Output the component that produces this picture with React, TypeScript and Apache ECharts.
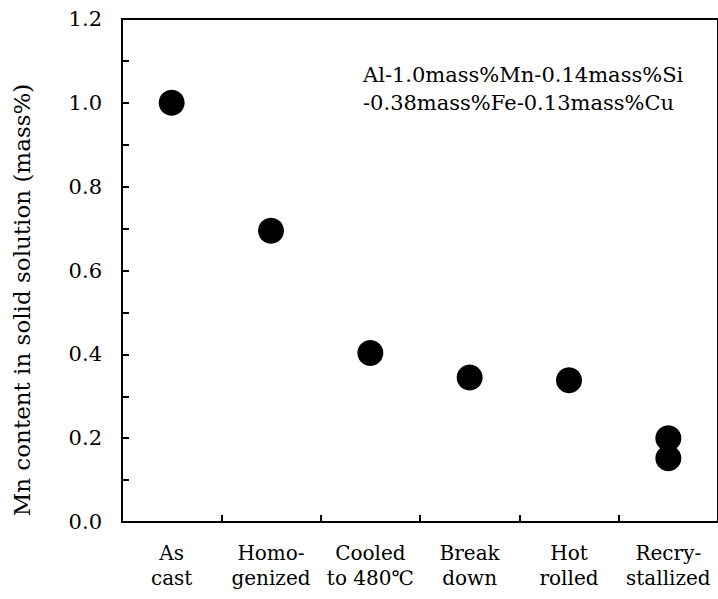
import React, { useEffect, useRef } from "react";
import * as echarts from "echarts";

const categories = [
  "As\ncast",
  "Homo-\ngenized",
  "Cooled\nto 480℃",
  "Break\ndown",
  "Hot\nrolled",
  "Recry-\nstallized",
];
const pointCategory = [0, 1, 2, 3, 4, 5, 5];
const pointValue = [1.0, 0.695, 0.403, 0.345, 0.338, 0.2, 0.152];
const yTickLabels = ["0.0", "0.2", "0.4", "0.6", "0.8", "1.0", "1.2"];
const yAxisTitle = "Mn content in solid solution (mass%)";
const noteLines = ["Al-1.0mass%Mn-0.14mass%Si", "-0.38mass%Fe-0.13mass%Cu"];

const FONT = "DejaVu Serif";

export default function App() {
  const ref = useRef<HTMLDivElement>(null);
  useEffect(() => {
    document.body.style.margin = "0";
    const chart = echarts.init(ref.current!, null, { renderer: "svg" });
    chart.setOption({
      animation: false,
      backgroundColor: "#fff",
      textStyle: { fontFamily: FONT },
      grid: {
        left: 122,
        top: 19,
        width: 600,
        height: 503,
        show: true,
        borderColor: "#000",
        borderWidth: 2,
        containLabel: false,
      },
      xAxis: {
        type: "category",
        data: categories,
        boundaryGap: true,
        axisLine: { lineStyle: { color: "#000", width: 2 } },
        axisTick: { show: true, inside: true, length: 7, lineStyle: { color: "#000", width: 2 } },
        axisLabel: {
          color: "#000",
          fontFamily: FONT,
          fontSize: 20,
          lineHeight: 25,
          margin: 18,
          interval: 0,
        },
        splitLine: { show: false },
      },
      yAxis: {
        type: "value",
        min: 0,
        max: 1.2,
        interval: 0.2,
        axisLine: { show: true, lineStyle: { color: "#000", width: 2 } },
        axisTick: { show: true, inside: true, length: 7, lineStyle: { color: "#000", width: 2 } },
        minorTick: { show: true, splitNumber: 2, length: 7, lineStyle: { color: "#000", width: 2 } },
        axisLabel: {
          color: "#000",
          fontFamily: FONT,
          fontSize: 21,
          margin: 20,
          formatter: (v: number) => yTickLabels[Math.round(v / 0.2)] ?? v.toFixed(1),
        },
        splitLine: { show: false },
      },
      graphic: [
        {
          type: "text",
          x: 22,
          y: 300,
          rotation: Math.PI / 2,
          style: {
            text: yAxisTitle,
            fill: "#000",
            fontFamily: FONT,
            fontSize: 23,
            align: "center",
            verticalAlign: "middle",
          },
        },
        {
          type: "text",
          x: 363,
          y: 61,
          style: {
            text: noteLines.join("\n"),
            fill: "#000",
            fontFamily: FONT,
            fontSize: 21,
            lineHeight: 28,
            align: "left",
            verticalAlign: "top",
          },
        },
      ],
      series: [
        {
          type: "scatter",
          symbol: "circle",
          symbolSize: 26,
          itemStyle: { color: "#000", opacity: 1 },
          data: pointValue.map((v, i) => [pointCategory[i], v]),
        },
      ],
    });
    return () => chart.dispose();
  }, []);
  return <div ref={ref} style={{ width: 718, height: 599 }} />;
}
